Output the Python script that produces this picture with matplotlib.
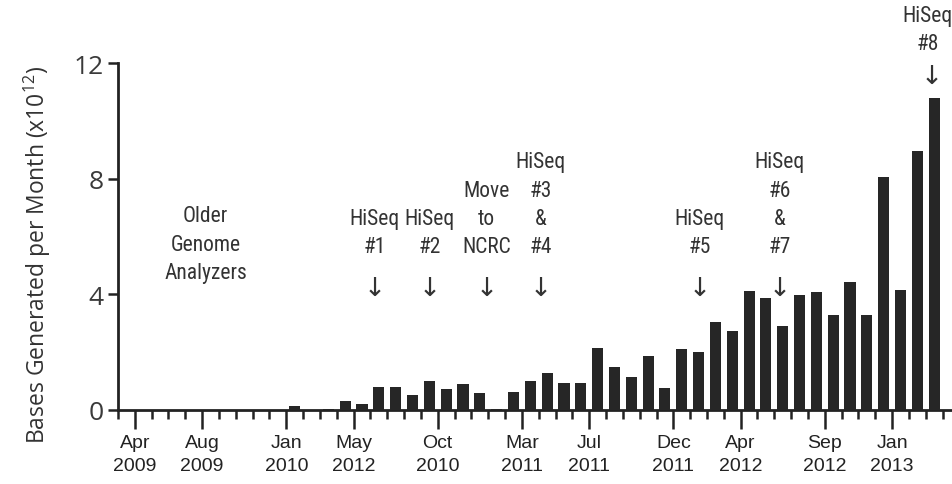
import matplotlib
matplotlib.use("Agg")
import matplotlib.pyplot as plt
from matplotlib.ticker import FixedLocator, MultipleLocator
from matplotlib import font_manager

# monthly output, Apr 2009 .. Mar 2013 (x10^12 bases)
months = list(range(48))
bases = [0, 0, 0, 0, 0, 0, 0, 0, 0, 0.15,
         0, 0.04, 0.31, 0.21, 0.78, 0.78, 0.53, 1.01, 0.71, 0.91,
         0.58, 0.04, 0.61, 1.01, 1.29, 0.92, 0.92, 2.16, 1.50, 1.15,
         1.88, 0.77, 2.11, 2.00, 3.05, 2.74, 4.11, 3.86, 2.92, 3.98,
         4.07, 3.30, 4.44, 3.30, 8.07, 4.16, 8.97, 10.78]

tick_months = [0, 4, 9, 13, 18, 23, 27, 32, 36, 41, 45]
tick_labels = ["Apr\n2009", "Aug\n2009", "Jan\n2010", "May\n2012", "Oct\n2010",
               "Mar\n2011", "Jul\n2011", "Dec\n2011", "Apr\n2012", "Sep\n2012",
               "Jan\n2013"]

events = ["HiSeq\n#1", "HiSeq\n#2", "Move\nto\nNCRC", "HiSeq\n#3\n&\n#4",
          "HiSeq\n#5", "HiSeq\n#6\n&\n#7"]
event_x = [14.25, 17.52, 20.9, 24.1, 33.55, 38.3]

# pick a condensed face for the annotations if one is installed
names = {f.name for f in font_manager.fontManager.ttflist}
narrow = "DejaVu Sans"
for cand in ["Liberation Sans Narrow", "DejaVu Sans Condensed", "Roboto Condensed",
             "Open Sans Condensed", "Noto Sans Condensed"]:
    if cand in names:
        narrow = cand
        break
fs_note = 15.5 if narrow != "DejaVu Sans" else 12.5

plt.rcParams['mathtext.default'] = 'regular'

fig = plt.figure(figsize=(9.53, 4.85), dpi=100)
ax = fig.add_axes([118 / 953, 74 / 485, 833 / 953, 347 / 485])

ax.bar([m + 0.5 for m in months], bases, width=0.66, color="#262626", zorder=3)

ax.set_xlim(-1, 48.5)
ax.set_ylim(0, 12)

for s in ["top", "right"]:
    ax.spines[s].set_visible(False)
for s in ["left", "bottom"]:
    ax.spines[s].set_linewidth(2.0)
    ax.spines[s].set_color("#222222")

ax.xaxis.set_major_locator(FixedLocator(tick_months))
ax.xaxis.set_minor_locator(MultipleLocator(1))
ax.set_xticklabels(tick_labels, fontsize=14, family="Liberation Sans",
                   color="#222222", linespacing=1.45)
ax.tick_params(axis="x", which="major", length=13.5, width=1.8, pad=4, color="#222222")
ax.tick_params(axis="x", which="minor", length=6.5, width=1.8, color="#222222")

ax.set_yticks([0, 4, 8, 12])
ax.set_yticklabels(["0", "4", "8", "12"], fontsize=19, family="Open Sans",
                   color="#3a3a3a")
ax.tick_params(axis="y", length=7.5, width=1.8, pad=3, color="#222222")

ax.set_ylabel("Bases Generated per Month (x10$^{12}$)", fontsize=16.5,
              family="Open Sans", color="#333333", va="center")
ax.yaxis.set_label_coords(-0.097, 0.45)

tkw = dict(ha="center", va="bottom", fontsize=fs_note, family=narrow,
           color="#333333", linespacing=1.45, clip_on=False)
akw = dict(ha="center", va="center", fontsize=19, family="DejaVu Sans",
           color="#333333", clip_on=False)

ax.text(4.2, 4.4, "Older\nGenome\nAnalyzers", **tkw)

for lab, x in zip(events, event_x):
    ax.text(x, 5.29, lab, **tkw)
    ax.text(x, 4.22, "\u2193", **akw)

ax.text(47.1, 12.3, "HiSeq\n#8", **tkw)
ax.text(47.33, 11.55, "\u2193", **akw)

fig.savefig("out.png", dpi=100)
